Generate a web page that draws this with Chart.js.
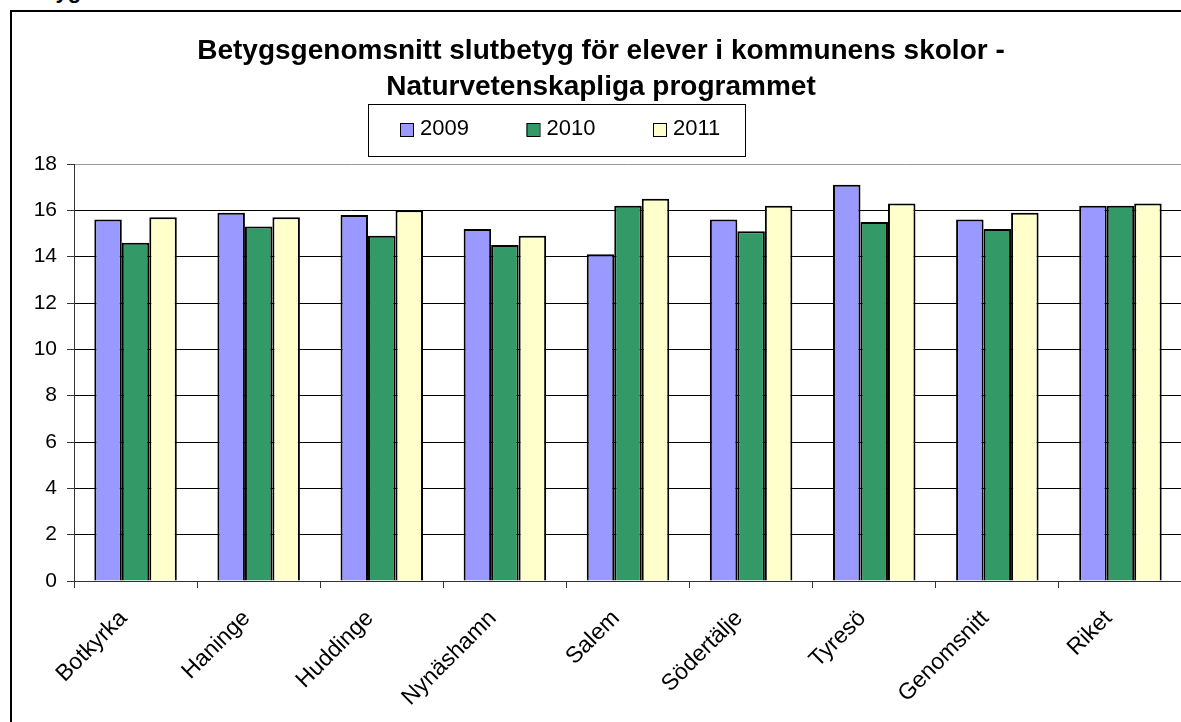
<!DOCTYPE html>
<html>
<head>
<meta charset="utf-8">
<script src="https://cdn.jsdelivr.net/npm/chart.js@4"></script>
<style>
  html, body { margin: 0; padding: 0; background: #fff; overflow: hidden; }
  #frame { position: absolute; left: 10px; top: 10px; width: 1300px; height: 800px; border: 2px solid #000; }
  #cut { position: absolute; left: 20px; top: -20px; font: bold 22px "Liberation Sans", Arial, sans-serif; line-height: 22px; }
  #wrap { position: absolute; left: 0; top: 0; }
</style>
</head>
<body>
<div id="cut">Betyg</div>
<div id="frame"></div>
<div id="wrap"><canvas id="chart" width="1200" height="722"></canvas></div>
<script>
const kommuner = ['Botkyrka', 'Haninge', 'Huddinge', 'Nynäshamn', 'Salem', 'Södertälje', 'Tyresö', 'Genomsnitt', 'Riket'];
const ar = ['2009', '2010', '2011'];
const v2009 = [15.6, 15.9, 15.8, 15.2, 14.1, 15.6, 17.1, 15.6, 16.2];
const v2010 = [14.6, 15.3, 14.9, 14.5, 16.2, 15.1, 15.5, 15.2, 16.2];
const v2011 = [15.7, 15.7, 16.0, 14.9, 16.5, 16.2, 16.3, 15.9, 16.3];
const farger = ['#9999ff', '#339966', '#ffffcc'];

const font = '"Liberation Sans", Arial, sans-serif';

// legend with a box around it, like the Excel one
const boxLegend = {
  id: 'boxLegend',
  afterDraw(chart) {
    const c = chart.ctx;
    c.save();
    c.strokeStyle = '#000';
    c.lineWidth = 1;
    c.strokeRect(368.5, 104.5, 377, 52);
    const xs = [400, 526.5, 653];
    c.font = '22px ' + font;
    c.textBaseline = 'middle';
    chart.data.datasets.forEach((ds, i) => {
      c.fillStyle = ds.backgroundColor;
      c.fillRect(xs[i], 123, 13, 13);
      c.strokeRect(xs[i] + 0.5, 123.5, 13, 13);
      c.fillStyle = '#000';
      c.fillText(ds.label, xs[i] + 20, 129);
    });
    c.restore();
  }
};

new Chart(document.getElementById('chart'), {
  type: 'bar',
  data: {
    labels: kommuner,
    datasets: [
      { label: ar[0], data: v2009, backgroundColor: farger[0] },
      { label: ar[1], data: v2010, backgroundColor: farger[1] },
      { label: ar[2], data: v2011, backgroundColor: farger[2] }
    ]
  },
  options: {
    responsive: false,
    animation: false,
    layout: { padding: { left: 20, right: 18, top: 0, bottom: 0 } },
    datasets: {
      bar: {
        borderColor: '#000',
        borderWidth: 2,
        barPercentage: 1,
        categoryPercentage: 0.67
      }
    },
    plugins: {
      legend: { display: false },
      tooltip: { enabled: false },
      title: {
        display: true,
        text: ['Betygsgenomsnitt slutbetyg för elever i kommunens skolor -', 'Naturvetenskapliga programmet'],
        color: '#000',
        font: { family: font, size: 28, weight: 'bold', lineHeight: 1.286 },
        padding: { top: 33, bottom: 59 }
      }
    },
    scales: {
      x: {
        grid: { offset: true, drawOnChartArea: false, drawTicks: true, tickLength: 7, color: '#333' },
        border: { color: '#333', width: 1 },
        ticks: {
          color: '#000',
          font: { family: font, size: 23 },
          maxRotation: 45,
          minRotation: 45,
          labelOffset: -12,
          padding: 17
        },
        afterFit(scale) { scale.height = 141; }
      },
      y: {
        min: 0,
        max: 18,
        ticks: { stepSize: 2, color: '#000', font: { family: font, size: 21 }, padding: 10 },
        grid: {
          color: ctx => ctx.tick && ctx.tick.value === 18 ? '#999' : '#000',
          tickColor: '#333',
          tickLength: 7
        },
        border: { color: '#333', width: 1 },
        afterFit(scale) { scale.width = 54; }
      }
    }
  },
  plugins: [boxLegend]
});
</script>
</body>
</html>
